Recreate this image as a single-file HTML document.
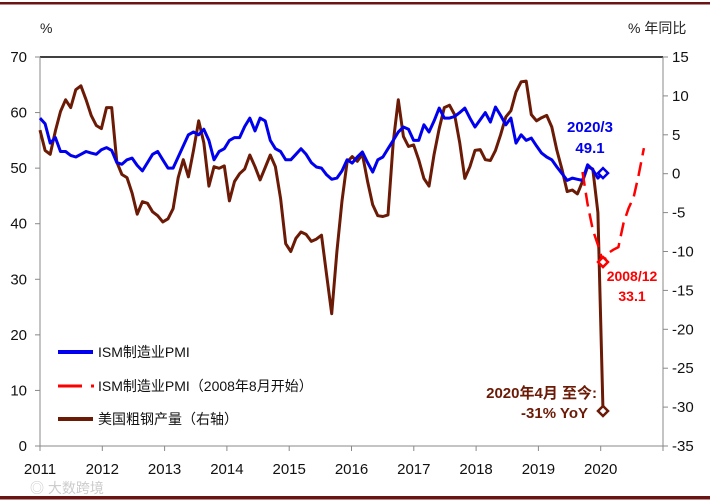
<!DOCTYPE html>
<html><head><meta charset="utf-8"><style>
html,body{margin:0;padding:0;background:#fff;}
svg{display:block;font-family:"Liberation Sans","Noto Sans CJK SC",sans-serif;}
</style></head><body>
<svg id="chart" width="710" height="502" viewBox="0 0 710 502" xmlns="http://www.w3.org/2000/svg">
<rect x="0" y="2" width="710" height="2.5" fill="#6b1414"/>
<rect x="0" y="496" width="710" height="3.5" fill="#6b1414"/>
<text x="40" y="33" font-size="14" fill="#222">%</text>
<text x="628" y="33" font-size="14" fill="#222">% 年同比</text>
<text x="30" y="493" font-size="14" fill="#ccc">◎ 大数跨境</text>
<g id="axes"></g>
<g id="series"></g>
<g id="legend">
<line x1="58" y1="352" x2="93" y2="352" stroke="#0000ee" stroke-width="4"/>
<text x="98" y="357" font-size="14" fill="#111">ISM制造业PMI</text>
<line x1="58" y1="386" x2="82" y2="386" stroke="#ff0000" stroke-width="3"/>
<line x1="91" y1="386" x2="94" y2="386" stroke="#ff0000" stroke-width="3"/>
<text x="98" y="391" font-size="14" fill="#111">ISM制造业PMI（2008年8月开始）</text>
<line x1="58" y1="419" x2="93" y2="419" stroke="#6b1a06" stroke-width="4"/>
<text x="98" y="424" font-size="14" fill="#111">美国粗钢产量（右轴）</text>
</g>
<text x="590" y="132" font-size="15" font-weight="bold" fill="#0000ee" text-anchor="middle">2020/3</text>
<text x="590" y="153" font-size="15" font-weight="bold" fill="#0000ee" text-anchor="middle">49.1</text>
<text x="632" y="281" font-size="14" font-weight="bold" fill="#ff0000" text-anchor="middle">2008/12</text>
<text x="632" y="301" font-size="14" font-weight="bold" fill="#ff0000" text-anchor="middle">33.1</text>
<text x="597" y="398" font-size="15" font-weight="bold" fill="#6b1a06" text-anchor="end">2020年4月 至今:</text>
<text x="588" y="418" font-size="15" font-weight="bold" fill="#6b1a06" text-anchor="end">-31% YoY</text>
</svg>
<script>
const years = ["2011","2012","2013","2014","2015","2016","2017","2018","2019","2020"];
const leftTicks = [0,10,20,30,40,50,60,70];
const rightTicks = [15,10,5,0,-5,-10,-15,-20,-25,-30,-35];
const pmi = [59,58,54.5,55.5,53,53,52.3,52,52.5,53,52.7,52.5,53.3,53.7,53.2,51,50.7,51.5,51.8,50.5,49.5,51,52.5,53,51.5,50,50,52,54,56,56.5,56,57,55,51.5,53,53.5,55,55.5,55.5,57.5,59,56.7,59,58.5,55,53.5,53,51.5,51.5,52.5,53.5,52.5,51,50.2,50,48.8,48,48.2,49.5,51.5,50.9,52,52.9,51,49.3,51.5,52,53.5,55,56.5,57.4,57,55,55,57.8,56.5,58.5,60.8,59,59,59.3,60,60.8,59,57.4,58.7,60,58.3,61,59.5,57.8,59,54.5,56,55,55.4,54,52.7,52,51.5,50.2,49,47.8,48.2,48,47.8,50.6,49.7,48.2,49.1];
const steel = [5.6,3,2.5,5.5,8,9.5,8.5,10.8,11.3,9.5,7.5,6.2,5.8,8.5,8.5,1.5,-0.1,-0.5,-2.5,-5.2,-3.6,-3.8,-4.9,-5.4,-6.2,-5.8,-4.5,-0.5,1.8,-0.4,3,6.8,4,-1.6,0.9,0.7,1,-3.5,-1,0,0.6,2.4,0.9,-0.8,0.8,2.4,0.9,-3.2,-9,-10,-8.3,-7.5,-7.8,-8.7,-8.4,-7.9,-13,-18,-10,-3.5,1.5,2.2,1.6,2.5,-1,-4,-5.4,-5.5,-5.3,4,9.5,4.8,3.5,3.7,1.8,-0.6,-1.6,2.5,5.8,8.5,8.8,7.6,4,-0.6,0.9,3,3.1,1.8,1.7,3,5,7.3,8.1,10.5,11.8,11.9,7.6,6.8,7.2,7.5,6,3,0.5,-2.3,-2.1,-2.6,-1,0.9,0.6,-5,-30.5];
const pmi2008 = [49.3,43.5,38.9,36.2,33.1,34.7,35.3,35.8,40.1,42.8,44.8,48.9,53.6];
const pmi2008Start = 106;

const NS = "http://www.w3.org/2000/svg";
const L = 40, R = 663, T = 57, B = 446;
const xm = i => L + i * (563 / 110);
const xy = k => L + k * ((R - L) / 10);
const yl = v => B - (v / 70) * (B - T);
const yr = v => B - ((v + 35) / 50) * (B - T);
function mk(tag, attrs, parent){ const e=document.createElementNS(NS,tag); for(const k in attrs) e.setAttribute(k,attrs[k]); parent.appendChild(e); return e; }
const axes = document.getElementById('axes'), ser = document.getElementById('series');

let e = mk('line',{x1:L,y1:T,x2:R,y2:T,stroke:'#000','stroke-width':1.5},axes);


e = mk('line',{x1:L,y1:T,x2:L,y2:B,stroke:'#888','stroke-width':1},axes);


e = mk('line',{x1:R,y1:T,x2:R,y2:B,stroke:'#888','stroke-width':1},axes);


e = mk('line',{x1:L,y1:B,x2:R,y2:B,stroke:'#888','stroke-width':1},axes);



leftTicks.forEach(v=>{
  const y=yl(v);
  let t=mk('line',{x1:L-5,y1:y,x2:L,y2:y,stroke:'#888'},axes);
  
  
  let s=mk('text',{x:27,y:y+5,'font-size':15,'text-anchor':'end',fill:'#111'},axes);
  s.textContent=v;
  
  
});
rightTicks.forEach(v=>{
  const y=yr(v);
  let t=mk('line',{x1:R,y1:y,x2:R+5,y2:y,stroke:'#888'},axes);
  
  
  let s=mk('text',{x:672,y:y+5,'font-size':15,fill:'#111'},axes);
  s.textContent=v;
  
  
});
for(let k=0;k<=10;k++){
  let t=mk('line',{x1:xy(k),y1:B,x2:xy(k),y2:B+5,stroke:'#888'},axes);
  
  
}
years.forEach((yv,k)=>{
  let s=mk('text',{x:xy(k),y:474,'font-size':15,'text-anchor':'middle',fill:'#111'},axes);
  s.textContent=yv;
  
  
});

const pSteel = steel.map((v,i)=>xm(i).toFixed(1)+','+yr(v).toFixed(1)).join(' ');
let ls = mk('polyline',{points:pSteel,fill:'none',stroke:'#6b1a06','stroke-width':3,'stroke-linejoin':'round'},ser);


const pPmi = pmi.map((v,i)=>xm(i).toFixed(1)+','+yl(v).toFixed(1)).join(' ');
let lp = mk('polyline',{points:pPmi,fill:'none',stroke:'#0000ee','stroke-width':3,'stroke-linejoin':'round'},ser);


const p08 = pmi2008.map((v,i)=>xm(pmi2008Start+i).toFixed(1)+','+yl(v).toFixed(1)).join(' ');
let l8 = mk('polyline',{points:p08,fill:'none',stroke:'#ff0000','stroke-width':2.5,'stroke-dasharray':'14,7'},ser);



function diamond(cx,cy,col,name){
  const d=5;
  const m=mk('polygon',{points:`${cx},${cy-d} ${cx+d},${cy} ${cx},${cy+d} ${cx-d},${cy}`,fill:'#fff',stroke:col,'stroke-width':2.5},ser);
  
  
}
diamond(xm(pmi.length-1),yl(pmi[pmi.length-1]),'#0000ee','pmi-last-marker');
const minIdx = pmi2008.indexOf(Math.min(...pmi2008));
diamond(xm(pmi2008Start+minIdx),yl(pmi2008[minIdx]),'#ff0000','pmi-2008-low-marker');
diamond(xm(steel.length-1),yr(steel[steel.length-1]),'#6b1a06','steel-last-marker');
</script>
</body></html>
